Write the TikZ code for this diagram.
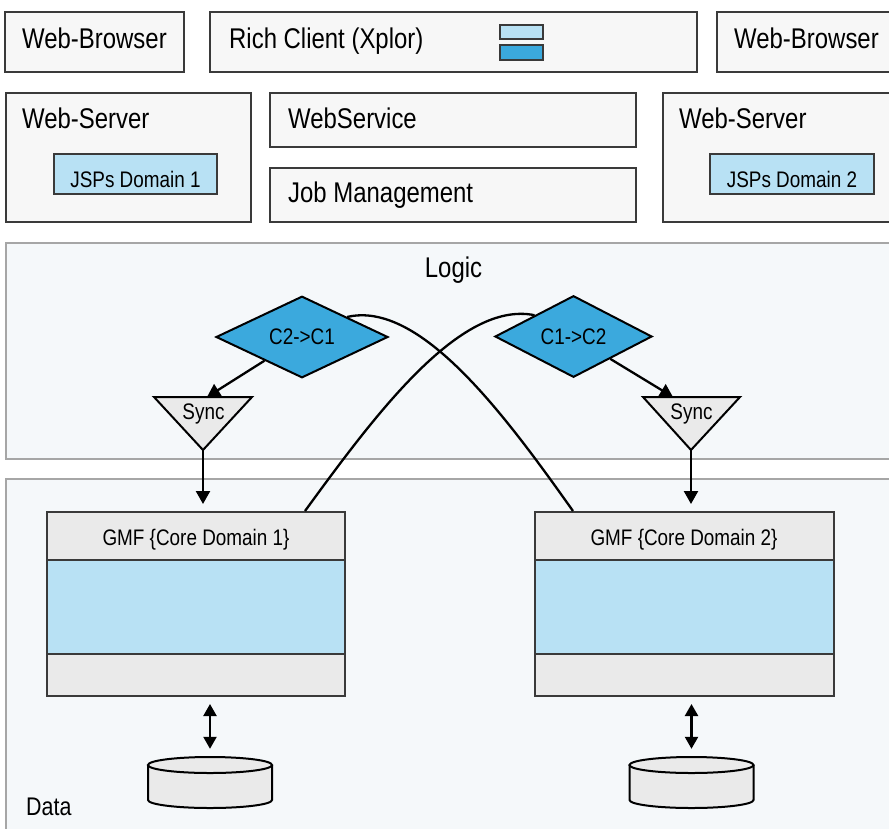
\documentclass[tikz,border=0pt]{standalone}
\usepackage{fontspec}
\setmainfont[FakeStretch=0.84]{Liberation Sans}
\usetikzlibrary{arrows.meta,calc,shapes.geometric}

\definecolor{panelfill}{HTML}{F5F8FA}
\definecolor{panelline}{HTML}{A6A6A6}
\definecolor{boxfill}{HTML}{F7F7F7}
\definecolor{boxline}{HTML}{3A3A3A}
\definecolor{paleblue}{HTML}{B8E1F4}
\definecolor{midblue}{HTML}{3BA9DD}
\definecolor{softgray}{HTML}{EAEAEA}

\begin{document}
\begin{tikzpicture}[x=1pt,y=-1pt,
  panel/.style={draw=panelline,fill=panelfill,line width=2pt},
  box/.style={draw=boxline,fill=boxfill,line width=2pt,inner sep=0pt,outer sep=0pt},
  bluebox/.style={box,fill=paleblue},
  iconbar/.style={box,line width=1.8pt},
  decision/.style={diamond,draw=black,fill=midblue,line width=2pt,inner sep=0pt,
    font=\fontsize{22.5}{24}\selectfont},
  bigtxt/.style={font=\fontsize{28.5}{30}\selectfont,inner sep=0pt},
  smalltxt/.style={font=\fontsize{22.5}{24}\selectfont,inner sep=0pt},
  conn/.style={draw=black,line width=2.3pt,-{Triangle[length=13pt,width=14pt]}},
  twoway/.style={draw=black,line width=2.3pt,{Triangle[length=12pt,width=13pt]}-{Triangle[length=12pt,width=13pt]}},
  cross/.style={draw=black,line width=2.3pt},
  syncshape/.style={draw=black,fill=softgray,line width=2pt,line join=miter},
  cylfill/.style={fill=softgray},
  cylline/.style={draw=black,line width=2pt}
]
\useasboundingbox (0,0) rectangle (889,828);
\clip (0,0) rectangle (889,828);
\fill[white] (0,0) rectangle (889,828);

% ---------- client tier ----------
\node[box,minimum width=179,minimum height=60] (wb1) at (94.5,42) {};
\node[box,minimum width=487,minimum height=60] (rc) at (453.5,42) {};
\node[box,minimum width=188,minimum height=60] (wb2) at (811,42) {};
\node[iconbar,fill=paleblue,minimum width=43,minimum height=14] (icontop) at (521.5,32) {};
\node[iconbar,fill=midblue,minimum width=43,minimum height=15] (iconbot) at (521.5,52.5) {};
\node[bigtxt,anchor=base west] (wb1lbl) at (22,48) {Web-Browser};
\node[bigtxt,anchor=base west] (rclbl) at (229,48) {Rich Client (Xplor)};
\node[bigtxt,anchor=base west] (wb2lbl) at (734,48) {Web-Browser};

% ---------- server tier ----------
\node[box,minimum width=245,minimum height=129] (ws1) at (128.5,157.5) {};
\node[box,minimum width=366,minimum height=54] (wsvc) at (453,120) {};
\node[box,minimum width=366,minimum height=54] (jobs) at (453,195) {};
\node[box,minimum width=242,minimum height=129] (ws2) at (784,157.5) {};
\node[bluebox,minimum width=163,minimum height=40] (jsp1) at (135.5,174) {};
\node[bluebox,minimum width=164,minimum height=40] (jsp2) at (792,174) {};
\node[bigtxt,anchor=base west] (ws1lbl) at (22,128) {Web-Server};
\node[bigtxt,anchor=base west] (wsvclbl) at (288,128) {WebService};
\node[bigtxt,anchor=base west] (jobslbl) at (288,202) {Job Management};
\node[bigtxt,anchor=base west] (ws2lbl) at (679,128) {Web-Server};
\node[smalltxt,anchor=base] (jsp1lbl) at (135.5,187) {JSPs Domain 1};
\node[smalltxt,anchor=base] (jsp2lbl) at (792,187) {JSPs Domain 2};

% ---------- logic and data panels ----------
\draw[panel] (6,243) rectangle (900,459);
\draw[panel] (6,479) rectangle (900,840);
\node[bigtxt,anchor=base] (logiclbl) at (453.5,277) {Logic};
\node[font=\fontsize{25.5}{27}\selectfont,inner sep=0pt,anchor=base west] (datalbl) at (26,815) {Data};

% converters
\node[decision,minimum width=172,minimum height=54] (d1) at (302,337) {C2->C1};
\node[decision,minimum width=157,minimum height=55] (d2) at (573.5,336.5) {C1->C2};

% sync funnels
\draw[syncshape] (154,397) -- (252,397) -- (203,450) -- cycle;
\draw[syncshape] (643,397) -- (740,397) -- (691,450) -- cycle;
\node[smalltxt,anchor=base] (sync1) at (203.5,419) {Sync};
\node[smalltxt,anchor=base] (sync2) at (691.5,419) {Sync};
\coordinate (s1top) at (207,397);
\coordinate (s2top) at (673,397);
\coordinate (s1tip) at (203,450);
\coordinate (s2tip) at (691,450);

% core domain stacks
\foreach \n/\cx in {1/196,2/684.5}{
  \fill[softgray] (\cx-149,512) rectangle (\cx+149,696);
  \fill[paleblue] (\cx-149,560) rectangle (\cx+149,654);
  \draw[boxline,line width=2pt] (\cx-149,560) -- (\cx+149,560);
  \draw[boxline,line width=2pt] (\cx-149,654) -- (\cx+149,654);
}
\node[draw=boxline,line width=2pt,minimum width=298,minimum height=184,inner sep=0pt] (gmf1) at (196,604) {};
\node[draw=boxline,line width=2pt,minimum width=299,minimum height=184,inner sep=0pt] (gmf2) at (684.5,604) {};
\node[smalltxt,anchor=base] (gmf1lbl) at (196,545) {GMF \{Core Domain 1\}};
\node[smalltxt,anchor=base] (gmf2lbl) at (684,545) {GMF \{Core Domain 2\}};

% databases
\foreach \cx in {210,691.5}{
  \path[cylfill] (\cx-62,765) -- (\cx-62,800)
     arc[start angle=180,end angle=0,x radius=62,y radius=8]
     -- (\cx+62,765) arc[start angle=0,end angle=180,x radius=62,y radius=8] -- cycle;
  \fill[softgray] (\cx,765) ellipse[x radius=62,y radius=8];
  \draw[cylline] (\cx-62,765) -- (\cx-62,800)
     arc[start angle=180,end angle=0,x radius=62,y radius=8] -- (\cx+62,765);
  \draw[cylline] (\cx,765) ellipse[x radius=62,y radius=8];
}
\node[minimum width=124,minimum height=51,inner sep=0pt] (db1) at (210,782.5) {};
\node[minimum width=124,minimum height=51,inner sep=0pt] (db2) at (691.5,782.5) {};

% ---------- connectors ----------
\draw[conn] (d1) -- (s1top);
\draw[conn] (d2) -- (s2top);
\draw[conn,shorten >=7pt] (s1tip) -- (s1tip |- gmf1.north);
\draw[conn,shorten >=7pt] (s2tip) -- (s2tip |- gmf2.north);
\draw[twoway,shorten <=7pt,shorten >=8pt] (db1.north |- gmf1.south) -- (db1.north);
\draw[twoway,shorten <=7pt,shorten >=8pt] (db2.north |- gmf2.south) -- (db2.north);

% crossing links between the converters and the opposite core domains
\draw[cross] ($(d1.north)!0.52!(d1.east)$) .. controls (420,300) and (505,415) .. ($(gmf2.north west)+(39,0)$);
\draw[cross] ($(d2.north)!0.49!(d2.west)$) .. controls (460,300) and (375,415) .. ($(gmf1.north west)+(259,0)$);
\end{tikzpicture}
\end{document}
